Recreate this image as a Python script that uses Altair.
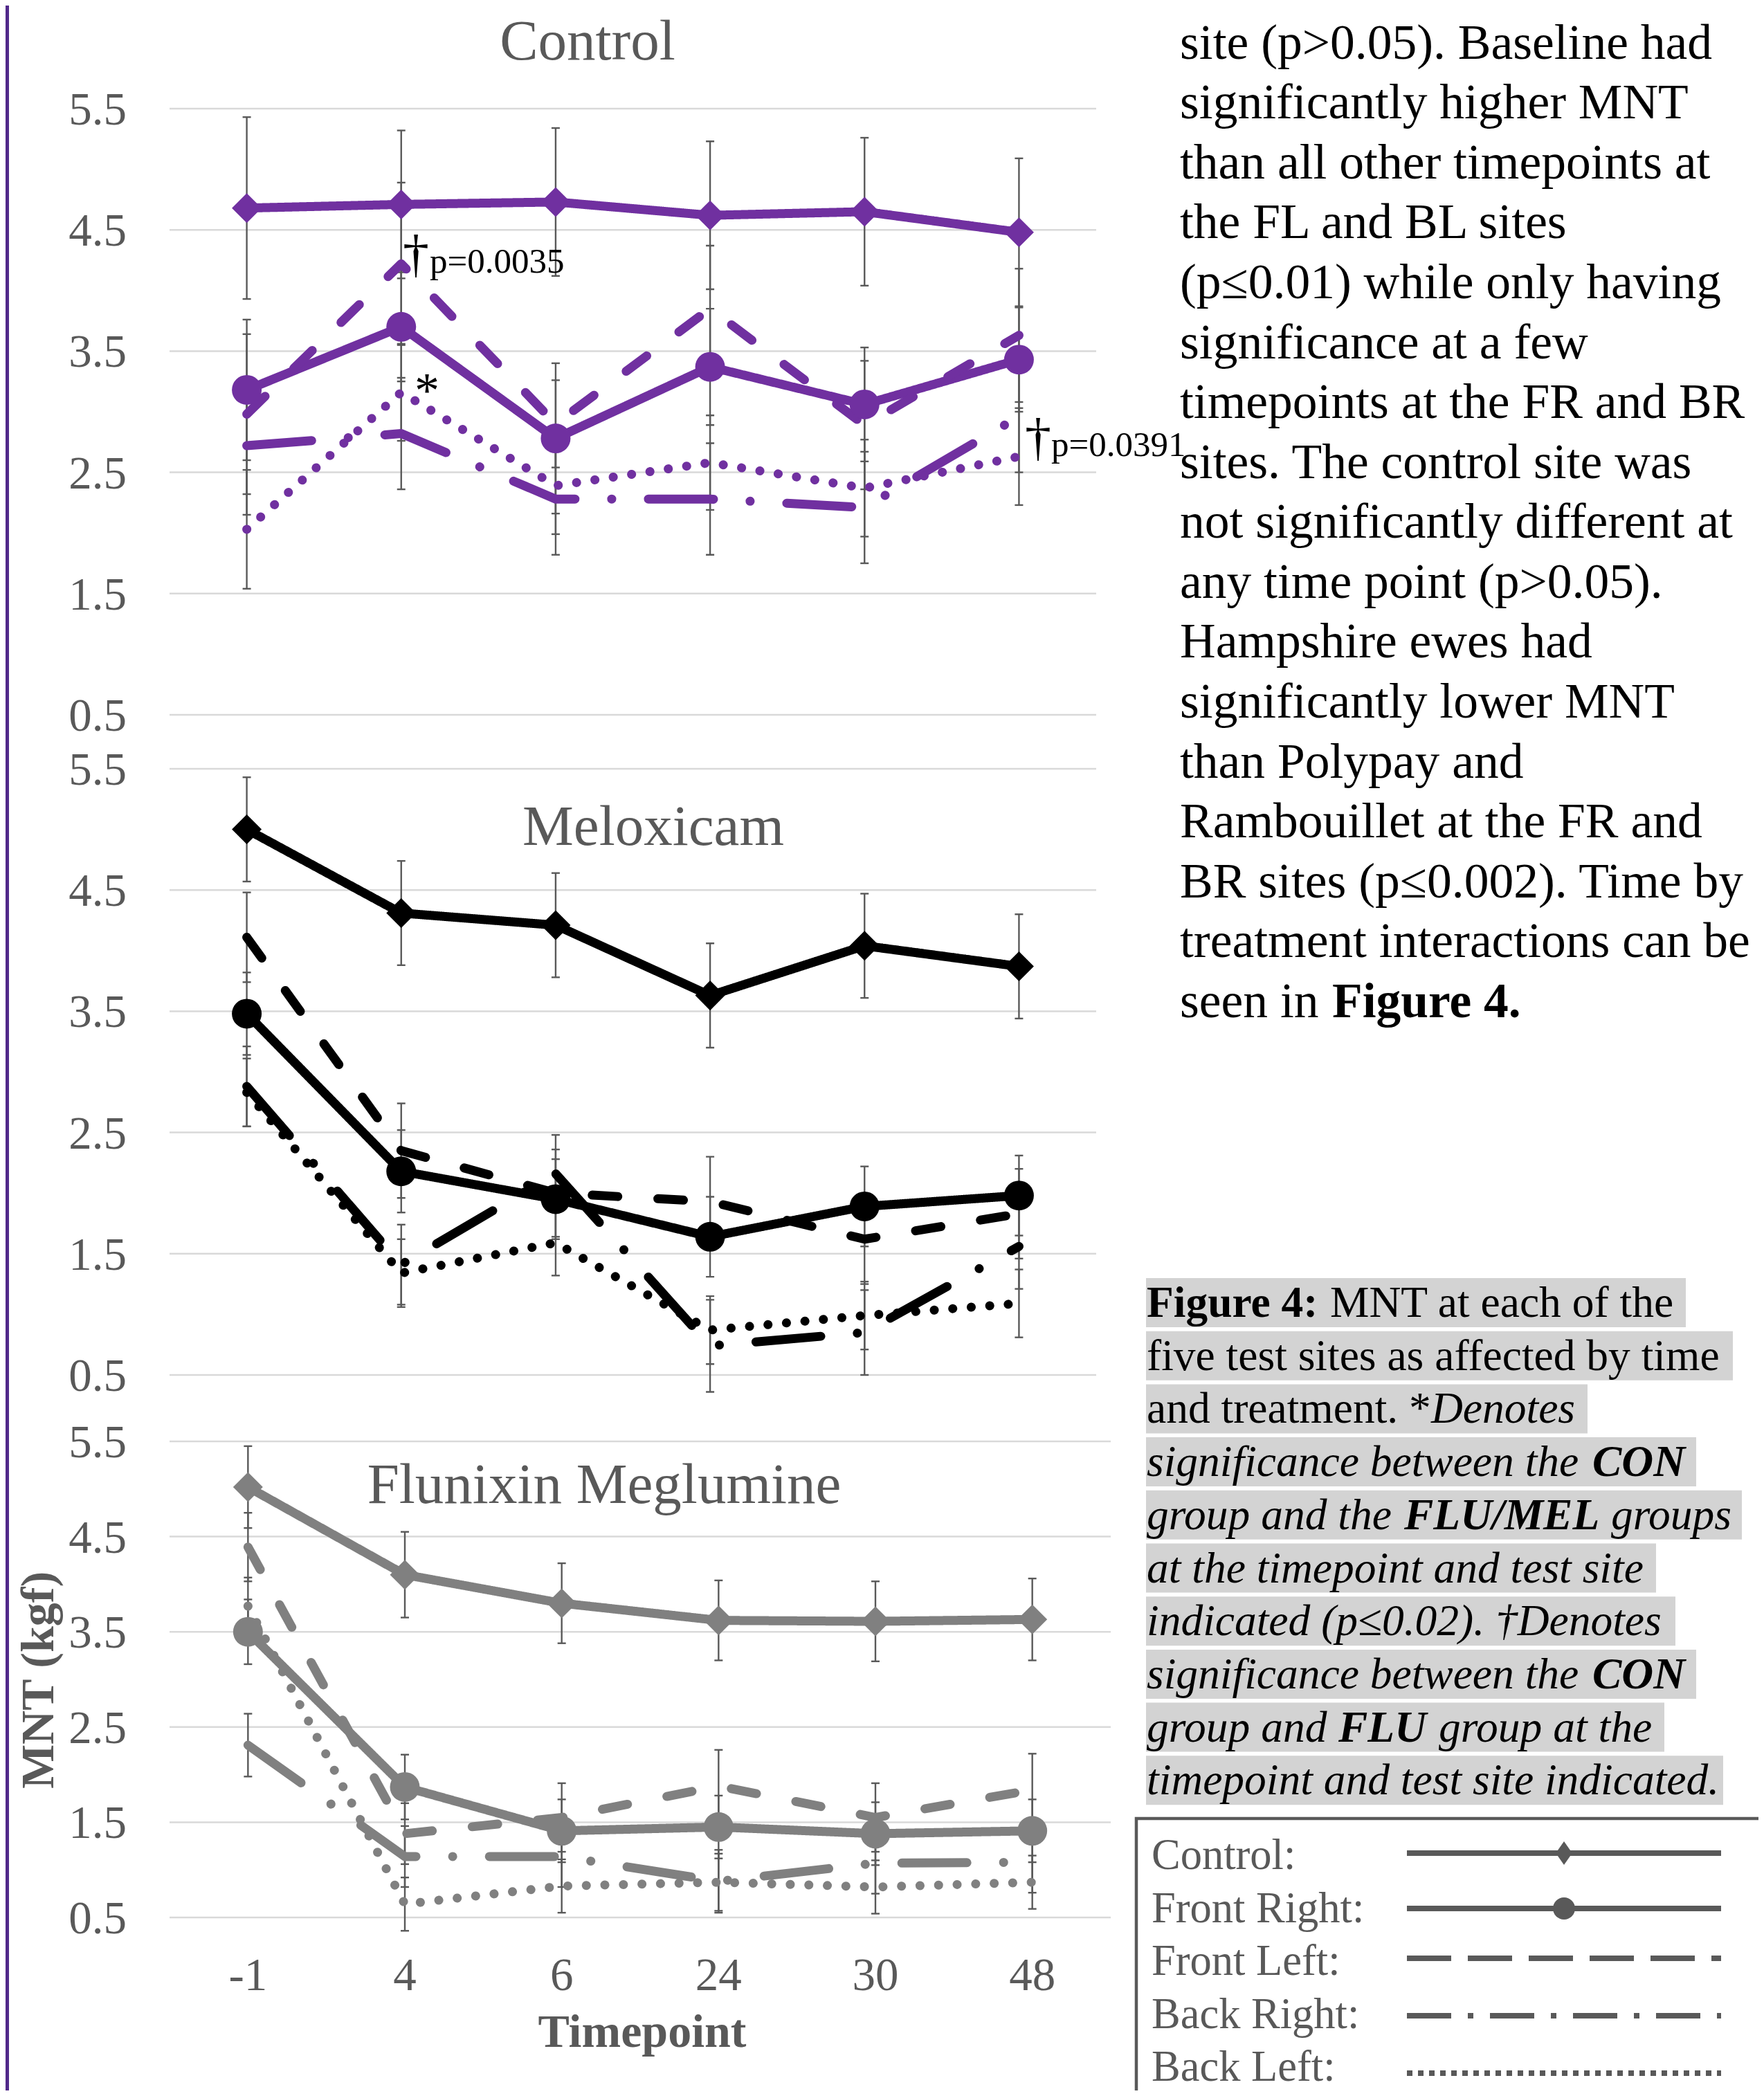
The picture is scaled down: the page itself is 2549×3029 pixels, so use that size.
import altair as alt
import pandas as pd

# ---------------- data ----------------
times = ["-1", "4", "6", "24", "30", "48"]
series = ["Control", "Front Right", "Front Left", "Back Right", "Back Left"]
y_ticks = [0.5, 1.5, 2.5, 3.5, 4.5, 5.5]
y_tick_labels = ["0.5", "1.5", "2.5", "3.5", "4.5", "5.5"]

# Control treatment
con_control = [4.68, 4.71, 4.73, 4.62, 4.65, 4.48]
con_fr = [3.18, 3.70, 2.78, 3.37, 3.06, 3.43]
con_fl = [2.98, 4.22, 2.90, 3.85, 2.89, 3.63]
con_br = [2.72, 2.82, 2.28, 2.28, 2.21, 2.96]
con_bl = [2.03, 3.16, 2.39, 2.58, 2.37, 2.63]
con_control_se = [0.75, 0.61, 0.61, 0.61, 0.61, 0.61]
con_fr_se = [0.58, 0.45, 0.62, 0.48, 0.47, 0.43]
con_fl_se = [0.66, 0.67, 0.36, 0.52, 0.53, 0.55]
con_br_se = [0.57, 0.46, 0.46, 0.46, 0.46, 0.46]
con_bl_se = [0.49, 0.40, 0.40, 0.39, 0.40, 0.40]

# Meloxicam
mel_control = [5.00, 4.31, 4.21, 3.63, 4.04, 3.87]
mel_fr = [3.48, 2.18, 1.95, 1.64, 1.89, 1.98]
mel_fl = [4.11, 2.35, 2.00, 1.93, 1.62, 1.83]
mel_br = [2.88, 1.41, 2.16, 0.74, 0.85, 1.56]
mel_bl = [2.83, 1.34, 1.59, 0.87, 0.99, 1.09]
mel_control_se = [0.43, 0.43, 0.43, 0.43, 0.43, 0.43]
mel_fr_se = [0.34, 0.34, 0.33, 0.33, 0.33, 0.33]
mel_fl_se = [0.37, 0.39, 0.36, 0.37, 0.37, 0.37]
mel_br_se = [0.33, 0.33, 0.32, 0.38, 0.35, 0.35]
mel_bl_se = [0.28, 0.28, 0.27, 0.28, 0.28, 0.28]

# Flunixin Meglumine
flu_control = [5.02, 4.10, 3.80, 3.62, 3.61, 3.63]
flu_fr = [3.50, 1.87, 1.41, 1.45, 1.38, 1.41]
flu_fl = [4.39, 1.38, 1.55, 1.88, 1.55, 1.84]
flu_br = [2.31, 1.14, 1.14, 0.88, 1.07, 1.08]
flu_bl = [3.77, 0.64, 0.83, 0.87, 0.82, 0.87]
flu_control_se = [0.43, 0.45, 0.42, 0.42, 0.42, 0.43]
flu_fr_se = [0.34, 0.34, 0.33, 0.33, 0.33, 0.33]
flu_fl_se = [0.36, 0.32, 0.36, 0.38, 0.36, 0.38]
flu_br_se = [0.33, 0.32, 0.32, 0.33, 0.32, 0.32]
flu_bl_se = [0.30, 0.28, 0.28, 0.30, 0.28, 0.28]

paragraph_lines = [
    "site (p>0.05). Baseline had",
    "significantly higher MNT",
    "than all other timepoints at",
    "the FL and BL sites",
    "(p\u22640.01) while only having",
    "significance at a few",
    "timepoints at the FR and BR",
    "sites. The control site was",
    "not significantly different at",
    "any time point (p>0.05).",
    "Hampshire ewes had",
    "significantly lower MNT",
    "than Polypay and",
    "Rambouillet at the FR and",
    "BR sites (p\u22640.002). Time by",
    "treatment interactions can be",
]
paragraph_last = ["seen in", "Figure 4."]

caption_segments = [
    (0, "Figure 4:", "b"), (0, "MNT at each of the", "r"),
    (1, "five test sites as affected by time", "r"),
    (2, "and treatment. *", "r"), (2, "Denotes", "i"),
    (3, "significance between the", "i"), (3, "CON", "bi"),
    (4, "group and the", "i"), (4, "FLU/MEL", "bi"), (4, "groups", "i"),
    (5, "at the timepoint and test site", "i"),
    (6, "indicated (p\u22640.02). \u2020Denotes", "i"),
    (7, "significance between the", "i"), (7, "CON", "bi"),
    (8, "group and", "i"), (8, "FLU", "bi"), (8, "group at the", "i"),
    (9, "timepoint and test site indicated.", "i"),
]
legend_labels = ["Control:", "Front Right:", "Front Left:", "Back Right:", "Back Left:"]

# ---------------- layout / style ----------------
OFF = 8
def P(v):
    return v - OFF

FONT = "Liberation Serif"
TXT = "#595959"
GRID = "#d9d9d9"
ERR = "#595959"
LW = 13
BR_DASH = [94, 53, 0.1, 53]
BL_DASH = [0.1, 26.7]
DASHES_SHORT = [[1, 0], [1, 0], [37, 58], BR_DASH, BL_DASH]
DASHES_LONG = [[1, 0], [1, 0], [82, 64], BR_DASH, BL_DASH]
caption_x = [1657, 1922, 1657, 1657, 2068, 1657, 2301, 1657, 2029, 2328, 1657,
             1657, 1657, 2301, 1657, 1934, 2079, 1657]
caption_box_right = [2436, 2504, 2294, 2451, 2517, 2393, 2421, 2451, 2405, 2490]
legend_base = [2701, 2778, 2854, 2931, 3007]
legend_line_y = [2678, 2758, 2830, 2913, 2996]
legend_dash = [[1, 0], [1, 0], [64, 24], [64, 24, 8, 24], [8, 8]]

one = pd.DataFrame({"a": [0]})


def txt(text, x, y, size, color="black", align="left", baseline="alphabetic",
        weight="normal", style="normal", angle=0, line_height=None):
    kw = dict(font=FONT, fontSize=size, color=color, align=align, baseline=baseline,
              fontWeight=weight, fontStyle=style, text=text)
    if angle:
        kw["angle"] = angle
    if line_height:
        kw["lineHeight"] = line_height
    return alt.Chart(one).mark_text(**kw).encode(x=alt.value(x), y=alt.value(y))


def panel(key, means, errs, color, dashes, y_top, y_bottom, x_left, x_right, title, title_x,
          title_base, x_labels=False):
    rows = []
    for s, m, e in zip(series, means, errs):
        for i, (t, v, er) in enumerate(zip(times, m, e)):
            rows.append(dict(series=s, time=t, idx=i, value=v, lo=v - er, hi=v + er))
    d = pd.DataFrame(rows)
    xs = alt.Scale(type="point", domain=times, range=[P(x_left), P(x_right)], padding=0.5)
    ys = alt.Scale(domain=[0.5, 5.5], range=[P(y_bottom), P(y_top)], zero=False, nice=False)
    X = alt.X("time:N", scale=xs, axis=None, sort=times)

    def Y(f):
        return alt.Y(f, scale=ys, axis=None)

    tick_df = pd.DataFrame({"v": y_ticks, "lab": y_tick_labels})
    grid = alt.Chart(tick_df).mark_rule(color=GRID, strokeWidth=2.5).encode(
        y=Y("v:Q"), x=alt.value(P(x_left)), x2=alt.value(P(x_right)))
    labs = alt.Chart(tick_df).mark_text(align="right", baseline="middle", fontSize=67,
                                        font=FONT, color=TXT, dy=3).encode(
        y=Y("v:Q"), x=alt.value(P(183)), text="lab:N")
    err = alt.Chart(d).mark_rule(color=ERR, strokeWidth=2.4).encode(
        x=X, y=Y("lo:Q"), y2="hi:Q")
    cap_lo = alt.Chart(d).mark_tick(color=ERR, orient="horizontal", size=12, thickness=2.4,
                                    opacity=1).encode(x=X, y=Y("lo:Q"))
    cap_hi = alt.Chart(d).mark_tick(color=ERR, orient="horizontal", size=12, thickness=2.4,
                                    opacity=1).encode(x=X, y=Y("hi:Q"))
    d2 = d.assign(sk=d["series"] + "_" + key)
    lines = alt.Chart(d2).mark_line(color=color, strokeWidth=LW, strokeCap="round",
                                    strokeJoin="round").encode(
        x=X, y=Y("value:Q"),
        strokeDash=alt.StrokeDash("sk:N", scale=alt.Scale(
            domain=[s + "_" + key for s in series], range=dashes), legend=None),
        order="idx:Q")
    pts = alt.Chart(d).transform_filter(
        alt.FieldOneOfPredicate(field="series", oneOf=["Control", "Front Right"])
    ).mark_point(filled=True, opacity=1, size=1850, color=color).encode(
        x=X, y=Y("value:Q"),
        shape=alt.Shape("series:N", scale=alt.Scale(domain=["Control", "Front Right"],
                                                   range=["diamond", "circle"]), legend=None))
    ttl = txt(title, P(title_x), P(title_base), 83, color=TXT, align="center")
    layers = [grid, labs, err, cap_lo, cap_hi, lines, pts, ttl]
    if x_labels:
        xl = alt.Chart(pd.DataFrame({"time": times})).mark_text(
            font=FONT, fontSize=67, color=TXT, baseline="alphabetic", align="center").encode(
            x=X, y=alt.value(P(2876)), text="time:N")
        layers.append(xl)
    return alt.layer(*layers)


p1 = panel("con", [con_control, con_fr, con_fl, con_br, con_bl],
           [con_control_se, con_fr_se, con_fl_se, con_br_se, con_bl_se],
           "#7030A0", DASHES_SHORT, 157, 1033, 245, 1584, "Control", 849, 86)
p2 = panel("mel", [mel_control, mel_fr, mel_fl, mel_br, mel_bl],
           [mel_control_se, mel_fr_se, mel_fl_se, mel_br_se, mel_bl_se],
           "#000000", DASHES_LONG, 1111, 1987, 245, 1584, "Meloxicam", 944, 1221)
p3 = panel("flu", [flu_control, flu_fr, flu_fl, flu_br, flu_bl],
           [flu_control_se, flu_fr_se, flu_fl_se, flu_br_se, flu_bl_se],
           "#808080", DASHES_LONG, 2083, 2771, 245, 1605, "Flunixin Meglumine", 873, 2172,
           x_labels=True)

others = []
# purple page bar
others.append(alt.Chart(one).mark_rect(color="#51298A").encode(
    x=alt.value(0), x2=alt.value(5), y=alt.value(0), y2=alt.value(3013)))
# axis titles
others.append(txt("Timepoint", P(928), P(2958), 68, color=TXT, align="center", weight="bold"))
others.append(txt("MNT (kgf)", P(77), P(2428), 68, color=TXT, align="center", weight="bold",
                  angle=270))
# annotations
others.append(txt("\u2020", P(601), P(392), 76, align="center"))
others.append(txt("p=0.0035", P(621), P(394), 51))
others.append(txt("*", P(617), P(588), 72, align="center"))
others.append(txt("\u2020", P(1500), P(657), 76, align="center"))
others.append(txt("p=0.0391", P(1519), P(659), 51))
# paragraph
others.append(txt(paragraph_lines, P(1705), P(84.5), 71.5, line_height=86.6))
last_base = 84.5 + 16 * 86.6
others.append(txt(paragraph_last[0], P(1705), P(last_base), 71.5))
others.append(txt(paragraph_last[1], P(1925), P(last_base), 71.5, weight="bold"))
# caption highlight boxes
for i, r in enumerate(caption_box_right):
    top = 1847 + 76.7 * i
    others.append(alt.Chart(one).mark_rect(color="#d3d3d3").encode(
        x=alt.value(P(1656)), x2=alt.value(P(r)), y=alt.value(P(top)), y2=alt.value(P(top + 71))))
for (line, text, st), xx in zip(caption_segments, caption_x):
    base = 1847 + 76.7 * line + 56
    others.append(txt(text, P(xx), P(base), 63.5,
                      weight="bold" if "b" in st else "normal",
                      style="italic" if "i" in st else "normal"))
# legend box
others.append(alt.Chart(one).mark_rect(fillOpacity=0, stroke=TXT, strokeWidth=4.5).encode(
    x=alt.value(P(1642)), x2=alt.value(P(2545)), y=alt.value(P(2628)), y2=alt.value(3100)))
for lab, b, ly, dash in zip(legend_labels, legend_base, legend_line_y, legend_dash):
    others.append(txt(lab, P(1664), P(b), 62.5, color=TXT))
    others.append(alt.Chart(one).mark_rule(color=TXT, strokeWidth=8, strokeDash=dash,
                                           strokeCap="butt").encode(
        x=alt.value(P(2033)), x2=alt.value(P(2487)), y=alt.value(P(ly))))
others.append(alt.Chart(one).mark_point(shape="M0,-1L0.7,0L0,1L-0.7,0Z", filled=True,
                                        opacity=1, size=1156, color=TXT).encode(
    x=alt.value(P(2260)), y=alt.value(P(legend_line_y[0]))))
others.append(alt.Chart(one).mark_point(shape="circle", filled=True, opacity=1, size=1024,
                                        color=TXT).encode(
    x=alt.value(P(2260)), y=alt.value(P(legend_line_y[1]))))

chart = alt.layer(p1, p2, p3, *others).resolve_scale(
    x="independent", y="independent"
).properties(
    width=2533, height=3013, padding=0, background="white",
    autosize=alt.AutoSizeParams(type="none"),
).configure_view(stroke=None)

chart.save("out.html", embed_options={"renderer": "svg", "actions": False})
